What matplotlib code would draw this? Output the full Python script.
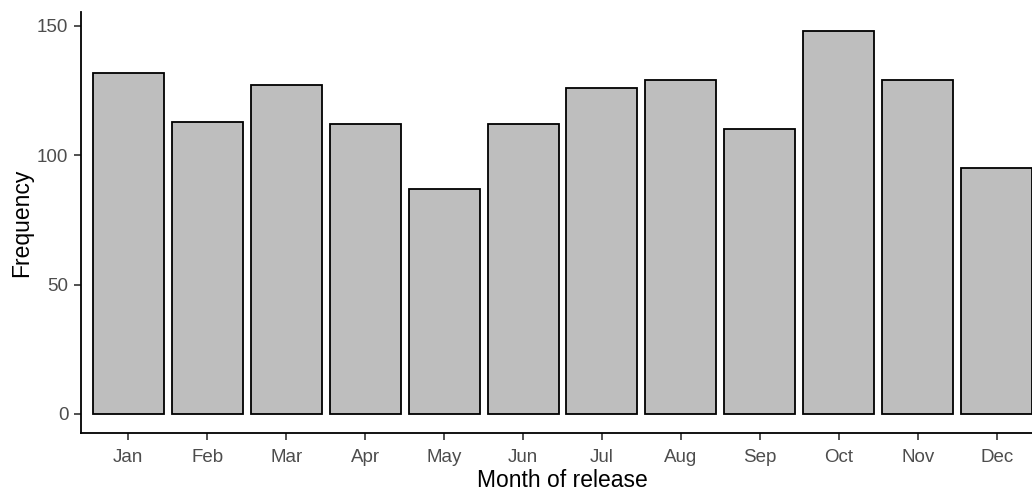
import matplotlib
matplotlib.use("Agg")
import matplotlib.pyplot as plt

months = ["Jan", "Feb", "Mar", "Apr", "May", "Jun", "Jul", "Aug", "Sep", "Oct", "Nov", "Dec"]
counts = [132, 113, 127, 112, 87, 112, 126, 129, 110, 148, 129, 95]
yticks = [0, 50, 100, 150]

plt.rcParams['font.family'] = ['Liberation Sans', 'DejaVu Sans']

fig = plt.figure(figsize=(10.32, 4.91), dpi=100)
ax = fig.add_axes([81/1032, (491-433)/491, (1044-81)/1032, (433-12)/491])

x = list(range(1, len(months) + 1))
ax.bar(x, counts, width=0.9, color="#BEBEBE", edgecolor="black", linewidth=1.3)

ax.set_xlim(0.4, 12.6)
ymax = max(counts)
ax.set_ylim(-0.05 * ymax, ymax * 1.05)
ax.set_xticks(x)
ax.set_xticklabels(months)
ax.set_yticks(yticks)

for s in ["top", "right"]:
    ax.spines[s].set_visible(False)
for s in ["left", "bottom"]:
    ax.spines[s].set_linewidth(1.3)
    ax.spines[s].set_color("black")

ax.tick_params(axis="both", length=5, width=1.2, color="#333333",
               labelcolor="#4D4D4D", labelsize=13.5, pad=4)
ax.tick_params(axis="x", pad=6.5)

ax.set_xlabel("Month of release", fontsize=16.5, color="black", labelpad=2)
ax.set_ylabel("Frequency", fontsize=16.5, color="black", labelpad=3)

fig.savefig("out.png", dpi=100)
